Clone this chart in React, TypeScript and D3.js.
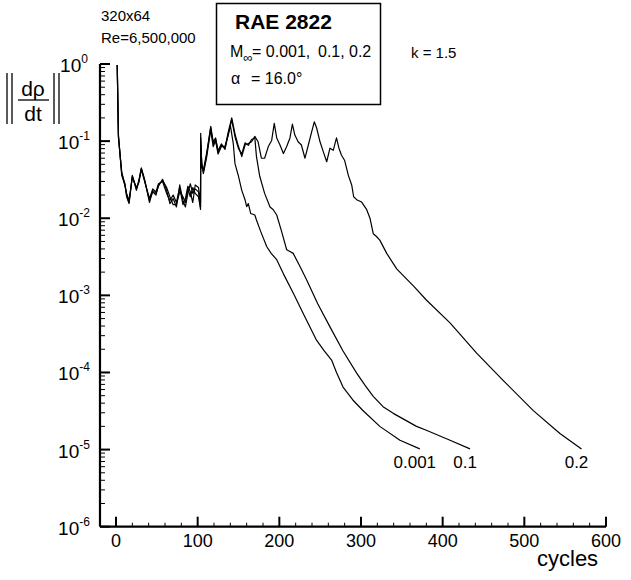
import React from "react";
import * as d3 from "d3";

// [cycle, residual]
const machLow: [number, number][] = [
  [1.5, 0.97], [3, 0.115], [7, 0.038], [11, 0.028], [13, 0.019], [16, 0.0155], [20, 0.036],
  [25, 0.023], [28, 0.03], [31, 0.045], [35, 0.032], [41, 0.016], [45, 0.023], [49, 0.021],
  [52, 0.026], [57, 0.032], [62, 0.023], [66, 0.0155], [70, 0.018], [74, 0.014], [78, 0.027],
  [82, 0.017], [85, 0.014], [88, 0.021], [91, 0.028], [94, 0.021], [97, 0.024], [101, 0.022],
  [103.5, 0.014], [103.7, 0.126], [105, 0.045], [107, 0.042], [111, 0.07], [116, 0.15],
  [119, 0.092], [122, 0.105], [125, 0.075], [129, 0.092], [133.5, 0.078], [137.5, 0.125],
  [140, 0.16], [143.6, 0.093], [145.7, 0.051], [150, 0.035], [154, 0.023], [158, 0.0174],
  [160, 0.0141], [162, 0.0155], [165, 0.0115], [170, 0.011], [172, 0.0095], [177, 0.0068],
  [184.5, 0.0043], [190, 0.0035], [196.8, 0.0029], [205, 0.0019], [217, 0.00107],
  [230, 0.00056], [245.7, 0.00026], [255, 0.00019], [264, 0.000145], [270, 0.0001],
  [278, 0.0000646], [290, 0.000044], [302, 0.0000324], [323, 0.00002], [347.7, 0.0000132],
  [372, 0.0000102],
];

const machMid: [number, number][] = [
  [1.5, 0.97], [3, 0.12], [7, 0.036], [11, 0.027], [13, 0.021], [16, 0.017], [20, 0.034],
  [25, 0.025], [28, 0.029], [31, 0.043], [35, 0.03], [41, 0.018], [45, 0.024], [49, 0.022],
  [52, 0.028], [57, 0.03], [62, 0.021], [66, 0.017], [70, 0.02], [74, 0.016], [78, 0.025],
  [82, 0.015], [85, 0.018], [88, 0.026], [91, 0.022], [94, 0.016], [97, 0.027], [101, 0.025],
  [103.5, 0.016], [103.7, 0.11], [105, 0.05], [107, 0.038], [111, 0.062], [116, 0.14],
  [119, 0.085], [122, 0.1], [125, 0.068], [129, 0.085], [133.5, 0.086], [137.5, 0.12],
  [141.7, 0.19], [146, 0.11], [150, 0.08], [154, 0.068], [158, 0.095], [162, 0.088],
  [166, 0.105], [170, 0.11], [172, 0.063], [176, 0.035], [182, 0.021], [188.6, 0.014],
  [192.6, 0.0129], [196.8, 0.011], [203, 0.0066], [209, 0.0039], [213, 0.0037], [217, 0.0035],
  [225, 0.0024], [233.5, 0.00158], [247, 0.00078], [262, 0.00039], [278, 0.00019],
  [294.7, 0.000098], [305, 0.000068], [315, 0.000049], [327, 0.000036], [339.5, 0.0000295],
  [368, 0.00002], [380, 0.0000178], [409, 0.0000132], [433.5, 0.0000102],
];

const machHigh: [number, number][] = [
  [1.5, 0.97], [3, 0.11], [7, 0.04], [11, 0.026], [13, 0.02], [16, 0.016], [20, 0.035],
  [25, 0.024], [28, 0.031], [31, 0.044], [35, 0.031], [41, 0.017], [45, 0.022], [49, 0.02],
  [52, 0.027], [57, 0.031], [62, 0.025], [66, 0.019], [70, 0.015], [74, 0.015], [78, 0.022],
  [82, 0.019], [85, 0.016], [88, 0.024], [91, 0.019], [94, 0.025], [97, 0.021], [101, 0.019],
  [103.5, 0.013], [103.7, 0.09], [105, 0.052], [107, 0.04], [111, 0.066], [116, 0.155],
  [119, 0.098], [122, 0.11], [125, 0.072], [129, 0.089], [133.5, 0.081], [137.5, 0.132],
  [141.7, 0.2], [146, 0.12], [150, 0.085], [154, 0.063], [158, 0.089], [162, 0.093],
  [166, 0.098], [170, 0.115], [174, 0.098], [178, 0.06], [182, 0.06], [186.5, 0.085],
  [190.6, 0.102], [193.8, 0.17], [196.8, 0.11], [200.8, 0.089], [205, 0.069], [209, 0.085],
  [213, 0.11], [216, 0.166], [219, 0.12], [223, 0.098], [227, 0.089], [231.4, 0.06],
  [235.5, 0.089], [239.6, 0.132], [242.8, 0.178], [245.7, 0.148], [249.8, 0.098],
  [254, 0.072], [258, 0.054], [262, 0.081], [266, 0.076], [270, 0.11], [273, 0.081],
  [276, 0.066], [280, 0.056], [284.5, 0.036], [288.6, 0.027], [291, 0.019], [294.7, 0.0174],
  [300.8, 0.0162], [307, 0.0129], [311, 0.01], [315, 0.0063], [319, 0.0058], [323, 0.0052],
  [331.5, 0.0035], [343.7, 0.0022], [351.8, 0.0018], [365, 0.0013], [380, 0.00087],
  [409, 0.00044], [441.6, 0.000178], [474, 0.000079], [511, 0.000032], [543.6, 0.0000162],
  [570, 0.0000102],
];

const curveLabels = ["0.001", "0.1", "0.2"];
const xTicks = [0, 100, 200, 300, 400, 500, 600];
const yExponents = [0, -1, -2, -3, -4, -5, -6];

const FONT = "'Liberation Sans', Arial, Helvetica, sans-serif";

const App: React.FC = () => {
  const x = d3.scaleLinear().domain([0, 600]).range([116, 606]);
  const y = d3.scaleLog().domain([1e-6, 1]).range([526.7, 64]);
  const x0 = x(-19.6);
  const yBottom = y(1e-6);

  const line = d3
    .line<[number, number]>()
    .x((d) => x(d[0]))
    .y((d) => y(d[1]));

  const series = [machLow, machMid, machHigh];

  const xMinor = d3.range(20, 600, 20).filter((v) => v % 100 !== 0);
  const yMinor: number[] = [];
  for (let e = -6; e < 0; e++) {
    for (let m = 2; m <= 9; m++) yMinor.push(m * Math.pow(10, e));
  }

  return (
    <div style={{ position: "absolute", left: 0, top: 0 }}>
      <svg width={631} height={580} style={{ display: "block", background: "#fff" }} fontFamily={FONT}>
        {/* header texts */}
        <text x={101} y={21} fontSize={15}>320x64</text>
        <text x={101} y={43} fontSize={15}>Re=6,500,000</text>
        <rect x={216.5} y={3.5} width={164} height={101} fill="none" stroke="#000" strokeWidth={1.5} />
        <text x={235} y={29} fontSize={21} fontWeight="bold">RAE 2822</text>
        <text x={230} y={57} fontSize={16}>
          M<tspan fontSize={13} dy={5}>∞</tspan>
          <tspan x={252} dy={-5}>= 0.001,</tspan>
          <tspan x={318}>0.1,</tspan>
          <tspan x={349}>0.2</tspan>
        </text>
        <text x={231} y={84} fontSize={16}>
          α<tspan x={251}>= 16.0°</tspan>
        </text>
        <text x={411} y={58} fontSize={15}>k = 1.5</text>

        {/* y axis label */}
        <g stroke="#000" strokeWidth={1.3}>
          <line x1={7} x2={7} y1={73} y2={124} />
          <line x1={12} x2={12} y1={73} y2={124} />
          <line x1={54} x2={54} y1={73} y2={124} />
          <line x1={59} x2={59} y1={73} y2={124} />
          <line x1={18} x2={49} y1={100} y2={100} />
        </g>
        <text x={33} y={96} fontSize={21} textAnchor="middle">dρ</text>
        <text x={33} y={121} fontSize={21} textAnchor="middle">dt</text>

        {/* axes */}
        <line x1={x0} x2={x0} y1={y(1)} y2={yBottom} stroke="#000" strokeWidth={2.2} />
        <line x1={x0} x2={x(600)} y1={yBottom} y2={yBottom} stroke="#000" strokeWidth={2.2} />
        {yExponents.map((e) => (
          <g key={"yt" + e}>
            <line x1={x0} x2={x0 + 10} y1={y(Math.pow(10, e))} y2={y(Math.pow(10, e))} stroke="#000" strokeWidth={2} />
            <text x={74} y={y(Math.pow(10, e)) + 8} fontSize={19} textAnchor="middle">
              10<tspan fontSize={12} dy={-9}>{e}</tspan>
            </text>
          </g>
        ))}
        {yMinor.map((v, i) => (
          <line key={"ym" + i} x1={x0} x2={x0 + 5} y1={y(v)} y2={y(v)} stroke="#000" strokeWidth={1} />
        ))}
        {xTicks.map((t) => (
          <g key={"xt" + t}>
            <line x1={x(t)} x2={x(t)} y1={yBottom} y2={yBottom - 10} stroke="#000" strokeWidth={2} />
            <text x={x(t)} y={547} fontSize={18} textAnchor="middle">{t}</text>
          </g>
        ))}
        {xMinor.map((t) => (
          <line key={"xm" + t} x1={x(t)} x2={x(t)} y1={yBottom} y2={yBottom - 4} stroke="#000" strokeWidth={1} />
        ))}
        <text x={537} y={566} fontSize={22}>cycles</text>

        {/* curves */}
        {series.map((s, i) => (
          <path key={"s" + i} d={line(s) ?? ""} fill="none" stroke="#000" strokeWidth={1.2} strokeLinejoin="round" />
        ))}
        {series.map((s, i) => {
          const last = s[s.length - 1];
          return (
            <text key={"l" + i} x={x(last[0]) - 5} y={y(last[1]) + 19} fontSize={17} textAnchor="middle">
              {curveLabels[i]}
            </text>
          );
        })}
      </svg>
    </div>
  );
};

export default App;
